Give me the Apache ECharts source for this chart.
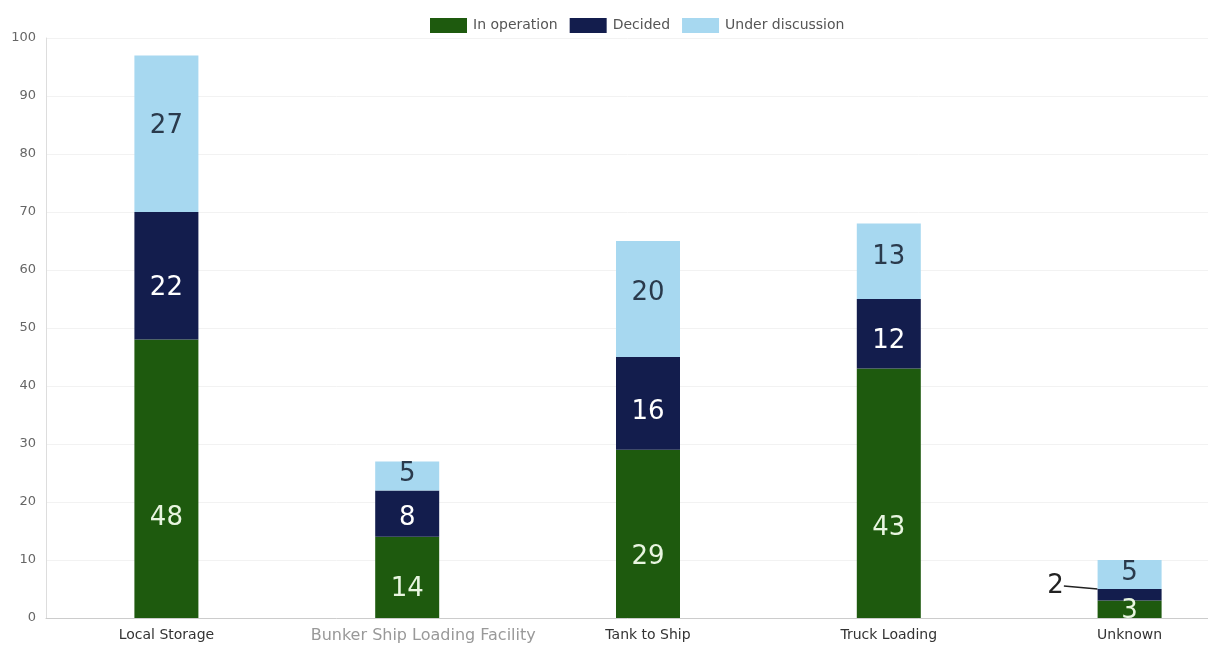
<!DOCTYPE html>
<html>
<head>
<meta charset="utf-8">
<script src="https://cdn.jsdelivr.net/npm/echarts@6/dist/echarts.min.js"></script>
<style>
  html, body { margin: 0; padding: 0; background: #fff; }
  #main { width: 1208px; height: 646px; }
</style>
</head>
<body>
<div id="main"></div>
<script>
var categories = ['Local Storage', 'Bunker Ship Loading Facility', 'Tank to Ship', 'Truck Loading', 'Unknown'];
var inOperation = [48, 14, 29, 43, 3];
var decided = [22, 8, 16, 12, 2];
var underDiscussion = [27, 5, 20, 13, 5];
var yTicks = [0, 100, 10];

var dom = document.getElementById('main');
var myChart = echarts.init(dom);

var labelFont = 'DejaVu Sans';

// place the value label at a share of the segment height (measured from its top)
function shiftLabel(share) {
    return function (params) {
        return {
            x: params.rect.x + params.rect.width / 2,
            y: params.rect.y + params.rect.height * share,
            align: 'center',
            verticalAlign: 'middle'
        };
    };
}

option = {
    color: ['#1e5a0e', '#131d4d', '#a7d8f0'],
    animation: false,
    legend: {
        top: 13,
        left: 425,
        icon: 'rect',
        itemWidth: 37,
        itemHeight: 15,
        itemGap: 12,
        itemStyle: { borderWidth: 0 },
        textStyle: { color: '#555', fontSize: 14, fontFamily: 'DejaVu Sans', padding: [0, 0, 0, 1] },
        data: ['In operation', 'Decided', 'Under discussion']
    },
    grid: {
        left: 46,
        top: 38,
        bottom: 28,
        width: 1204,
        outerBoundsMode: 'none'
    },
    xAxis: {
        type: 'category',
        data: categories,
        axisLine: { lineStyle: { color: '#ccc' } },
        axisTick: { show: false },
        axisLabel: {
            interval: 0,
            color: '#333',
            fontSize: 14,
            fontFamily: 'DejaVu Sans',
            margin: 10,
            formatter: function (v) {
                return v === 'Bunker Ship Loading Facility' ? '{b|' + v + '}' : v;
            },
            rich: {
                b: { color: '#999', fontSize: 16, fontFamily: 'DejaVu Sans', padding: [0, 0, 0, 32] }
            }
        }
    },
    yAxis: {
        type: 'value',
        min: yTicks[0],
        max: yTicks[1],
        interval: yTicks[2],
        axisLine: { show: true, lineStyle: { color: '#ddd' } },
        axisTick: { show: false },
        axisLabel: { color: '#666', fontSize: 13, fontFamily: 'DejaVu Sans', margin: 10 },
        splitLine: { lineStyle: { color: '#f2f2f2' } }
    },
    series: [
        {
            name: 'In operation',
            type: 'bar',
            stack: 'total',
            barWidth: 64,
            data: inOperation,
            label: {
                show: true,
                position: 'inside',
                color: '#e8f5e0',
                fontSize: 26,
                fontFamily: labelFont
            },
            labelLayout: shiftLabel(0.64)
        },
        {
            name: 'Decided',
            type: 'bar',
            stack: 'total',
            barWidth: 64,
            data: decided,
            label: {
                show: true,
                position: 'inside',
                color: '#ffffff',
                fontSize: 26,
                fontFamily: labelFont,
                formatter: function (p) {
                    return p.dataIndex === 4 ? '{o|' + p.value + '}' : p.value;
                },
                rich: {
                    o: { color: '#222', fontSize: 26, fontFamily: labelFont }
                }
            },
            labelLine: {
                show: true,
                lineStyle: { color: '#222', width: 1.5 }
            },
            labelLayout: function (params) {
                if (params.dataIndex === 4) {
                    return {
                        x: params.rect.x - 42,
                        y: params.rect.y - 3,
                        align: 'center',
                        verticalAlign: 'middle'
                    };
                }
                return shiftLabel(0.6)(params);
            }
        },
        {
            name: 'Under discussion',
            type: 'bar',
            stack: 'total',
            barWidth: 64,
            data: underDiscussion,
            label: {
                show: true,
                position: 'inside',
                color: '#2a3a4c',
                fontSize: 26,
                fontFamily: labelFont
            },
            labelLayout: shiftLabel(0.45)
        }
    ]
};
myChart.setOption(option);
</script>
</body>
</html>
